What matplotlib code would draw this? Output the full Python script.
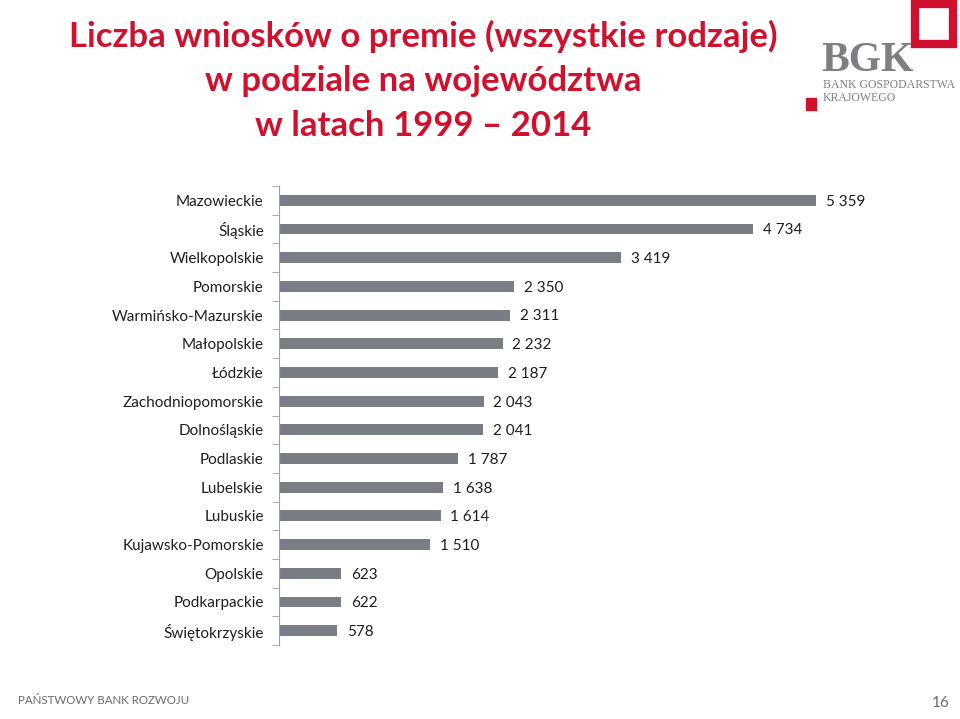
#!/usr/bin/env python3
import matplotlib
matplotlib.use("Agg")
import matplotlib.pyplot as plt
import matplotlib.patches as mpatches
import numpy as np

regions = [
    "Mazowieckie", "Śląskie", "Wielkopolskie", "Pomorskie",
    "Warmińsko-Mazurskie", "Małopolskie", "Łódzkie", "Zachodniopomorskie",
    "Dolnośląskie", "Podlaskie", "Lubelskie", "Lubuskie",
    "Kujawsko-Pomorskie", "Opolskie", "Podkarpackie", "Świętokrzyskie",
]
counts = [5359, 4734, 3419, 2350, 2311, 2232, 2187, 2043,
          2041, 1787, 1638, 1614, 1510, 623, 622, 578]

RED = "#d0112e"
BAR = "#7a7e84"
TXT = "#1e1e1e"
LOGO = "#7d7f82"


def fmt(v):
    return f"{v:,}".replace(",", " ")


def main() -> None:
    plt.rcParams["font.family"] = ["Lato", "DejaVu Sans"]
    fig = plt.figure(figsize=(9.6, 7.19), dpi=100)
    ax = fig.add_axes([279 / 960, 1 - 645 / 719, 601 / 960, 459 / 719])

    y = np.arange(len(regions))
    ax.barh(y, counts, height=0.38, color=BAR)
    for yi, v in zip(y, counts):
        ax.annotate(fmt(v), (v, yi), xytext=(7, -1), textcoords="offset points",
                    va="center", ha="left", fontsize=11, color=TXT)

    ax.set_xlim(0, 6000)
    ax.set_ylim(len(regions) - 0.5, -0.5)
    ax.set_yticks(y)
    ax.set_yticklabels(regions, fontsize=11, color=TXT)
    ax.set_yticks(np.arange(-0.5, len(regions)), minor=True)
    ax.tick_params(axis="y", which="major", length=0, pad=11)
    ax.tick_params(axis="y", which="minor", length=5, color="#a0a0a0", direction="out")
    ax.set_xticks([])
    for s in ["top", "right", "bottom"]:
        ax.spines[s].set_visible(False)
    ax.spines["left"].set_color("#a0a0a0")

    # title
    title_lines = ["Liczba wniosków o premie (wszystkie rodzaje)",
                   "w podziale na województwa",
                   "w latach 1999 – 2014"]
    for i, line in enumerate(title_lines):
        fig.text(423 / 960, 1 - (36 + 45 * i) / 719, line, ha="center", va="center",
                 fontsize=25, fontweight="bold", color=RED)

    # logo
    fig.patches.append(mpatches.Rectangle((915 / 960, 1 - 44 / 719), 38 / 960, 40 / 719,
                                          transform=fig.transFigure, fill=False,
                                          edgecolor=RED, linewidth=6))
    fig.patches.append(mpatches.Rectangle((806 / 960, 1 - 110 / 719), 10 / 960, 12 / 719,
                                          transform=fig.transFigure, color=RED))
    fig.text(821 / 960, 1 - 61 / 719, "BGK", fontsize=30, color=LOGO, fontweight="bold",
             family="Liberation Serif", va="center", ha="left")
    fig.text(823 / 960, 1 - 85 / 719, "BANK GOSPODARSTWA", fontsize=8.5, color=LOGO,
             family="Liberation Serif", va="center", ha="left")
    fig.text(823 / 960, 1 - 98 / 719, "KRAJOWEGO", fontsize=8.5, color=LOGO,
             family="Liberation Serif", va="center", ha="left")

    # footer
    fig.text(18 / 960, 1 - 700 / 719, "PAŃSTWOWY BANK ROZWOJU", fontsize=8.3,
             color="#6a6a6a", va="center", ha="left")
    fig.text(950 / 960, 1 - 703 / 719, "16", fontsize=11, color="#6a6a6a",
             va="center", ha="right")

    fig.savefig("out.png", dpi=100)
    plt.close(fig)


if __name__ == "__main__":
    main()
